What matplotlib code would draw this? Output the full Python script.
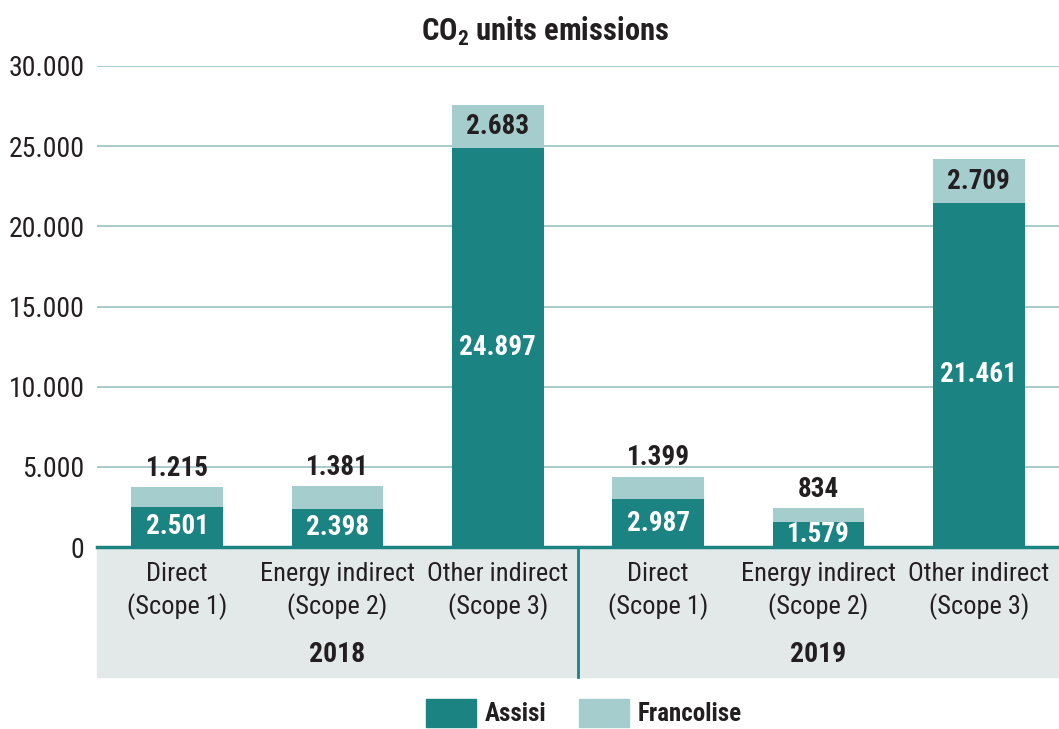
import matplotlib
matplotlib.use("Agg")
import matplotlib.pyplot as plt
from matplotlib.patches import Rectangle, Patch
from matplotlib.ticker import FuncFormatter

plt.rcParams['font.family'] = ['Roboto Condensed', 'DejaVu Sans']
plt.rcParams['mathtext.fontset'] = 'custom'
plt.rcParams['mathtext.rm'] = 'Roboto Condensed:bold'
plt.rcParams['mathtext.it'] = 'Roboto Condensed:bold'
plt.rcParams['mathtext.bf'] = 'Roboto Condensed:bold'

# dati
years = ["2018", "2019"]
scopes = ["Direct\n(Scope 1)", "Energy indirect\n(Scope 2)", "Other indirect\n(Scope 3)"]
assisi = [2501, 2398, 24897, 2987, 1579, 21461]
francolise = [1215, 1381, 2683, 1399, 834, 2709]
yticks = [0, 5000, 10000, 15000, 20000, 25000, 30000]

dark = "#1b8482"
light = "#a6cdce"
grey = "#e3e9e9"
txt = "#231f20"

fig = plt.figure(figsize=(10.59, 7.29), dpi=100)
ax = fig.add_axes([97 / 1059, 1 - 547 / 729, 1 - 97 / 1059, 481 / 729])

x = list(range(len(assisi)))
ax.bar(x, assisi, width=0.57, color=dark, zorder=3)
ax.bar(x, francolise, width=0.57, bottom=assisi, color=light, zorder=3)

fmt = lambda v: f"{v:,}".replace(",", ".")

for i in x:
    ax.text(i, assisi[i] / 2, fmt(assisi[i]), ha="center", va="center",
            color="white", fontsize=19.5, fontweight="bold", zorder=4)
    if francolise[i] > 2000:
        ax.text(i, assisi[i] + francolise[i] / 2, fmt(francolise[i]), ha="center",
                va="center", color=txt, fontsize=19.5, fontweight="bold", zorder=4)
    else:
        ax.text(i, assisi[i] + francolise[i] + 350, fmt(francolise[i]), ha="center",
                va="bottom", color=txt, fontsize=19.5, fontweight="bold", zorder=4)

ax.set_xlim(-0.5, len(assisi) - 0.5)
ax.set_ylim(0, 30000)
ax.set_yticks(yticks)
ax.yaxis.set_major_formatter(FuncFormatter(lambda v, p: fmt(int(v))))
ax.tick_params(axis="y", length=0, labelsize=20, labelcolor=txt, pad=9)
ax.set_xticks([])
ax.grid(axis="y", color="#a9cbcb", linewidth=1.4, zorder=0)
for s in ["top", "right", "left"]:
    ax.spines[s].set_visible(False)
ax.spines["bottom"].set_color(dark)
ax.spines["bottom"].set_linewidth(2.5)
ax.spines["bottom"].set_zorder(5)

# fascia grigia delle categorie
px = 30000 / 481
box_h = 130 / 481
ax.add_patch(Rectangle((0, -box_h), 1, box_h, transform=ax.transAxes,
                       color=grey, clip_on=False, zorder=1))
ax.plot([0.5, 0.5], [-box_h, 0], transform=ax.transAxes, color=dark,
        linewidth=2, clip_on=False, zorder=2)

for i in x:
    ax.text(i, -44 * px, scopes[i % 3], ha="center", va="center",
            fontsize=19, color=txt, linespacing=1.3)
for j, y in enumerate(years):
    ax.text(1 + 3 * j, -108 * px, y, ha="center", va="center",
            fontsize=20, fontweight="bold", color=txt)

fig.text(545 / 1059, 1 - 31 / 729, r"CO$_2$ units emissions", ha="center", va="center",
         fontsize=22, fontweight="bold", color=txt)

handles = [Patch(color=dark, label="Assisi"), Patch(color=light, label="Francolise")]
leg = fig.legend(handles=handles, loc="center", bbox_to_anchor=(584 / 1059, 1 - 713 / 729),
                 ncol=2, frameon=False, handlelength=2.0, handleheight=1.3,
                 columnspacing=1.3, handletextpad=0.35, borderpad=0.1,
                 prop={"size": 18, "weight": "bold"})
for t in leg.get_texts():
    t.set_color(txt)

fig.savefig("out.png", dpi=100)
